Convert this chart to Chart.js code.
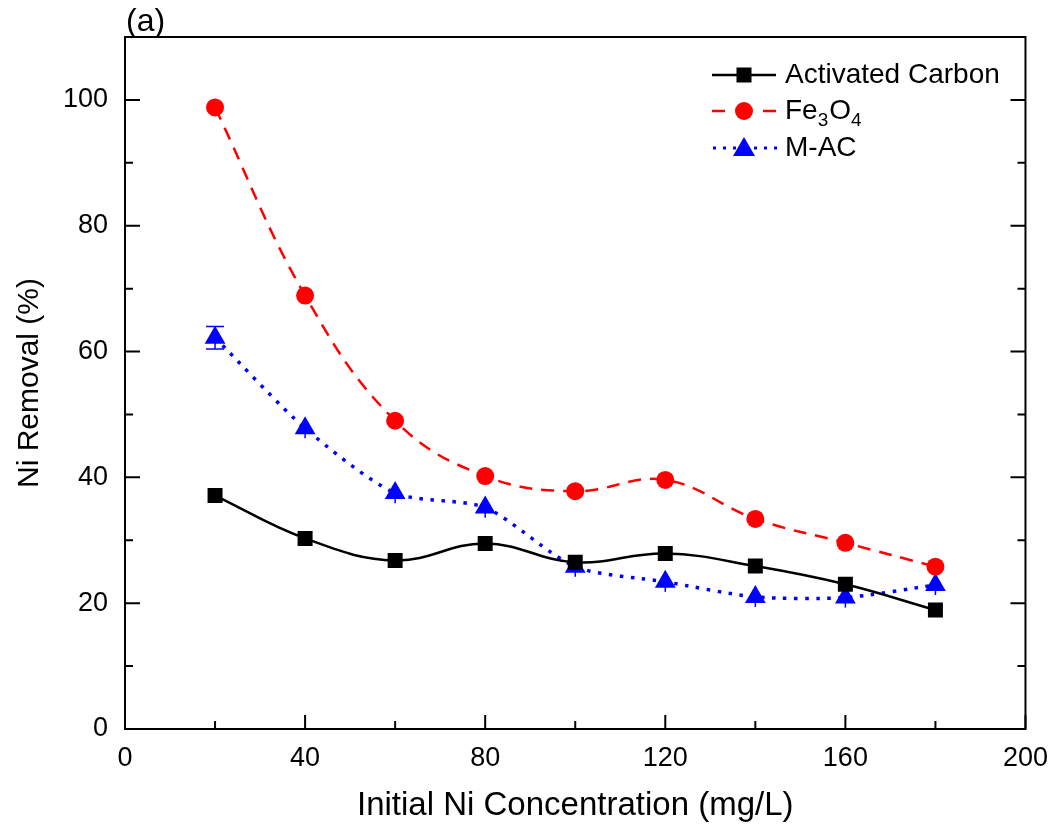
<!DOCTYPE html>
<html>
<head>
<meta charset="utf-8">
<script src="https://cdn.jsdelivr.net/npm/chart.js@4.4.1/dist/chart.umd.min.js"></script>
<style>
  html, body { margin: 0; padding: 0; background: #fff; }
  #wrap { width: 1061px; height: 832px; }
</style>
</head>
<body>
<div id="wrap"><canvas id="removal-chart" width="1061" height="832"></canvas></div>
<script>
// Ni removal vs initial concentration
var concentrations = [20, 40, 60, 80, 100, 120, 140, 160, 180];
var carbonRemoval = [37.1, 30.3, 26.8, 29.5, 26.5, 27.9, 25.9, 23.0, 18.9];
var fe3o4Removal = [98.8, 68.9, 49.0, 40.2, 37.8, 39.6, 33.4, 29.6, 25.8];
var macRemoval = [62.2, 47.8, 37.5, 35.2, 25.8, 23.4, 21.0, 20.9, 22.9];
var fe3o4Error = [0.8, 0.5, 0.5, 0.5, 0.5, 0.5, 0.5, 0.5, 0.5];
var macError = [1.8, 1.6, 1.6, 1.6, 1.6, 1.6, 1.6, 1.6, 1.6];
var xTicks = [0, 40, 80, 120, 160, 200];
var yTicks = [0, 20, 40, 60, 80, 100];
var xMinorTicks = [20, 60, 100, 140, 180];
var yMinorTicks = [10, 30, 50, 70, 90];

var FONT = "'Liberation Sans', Arial, sans-serif";

function pairs(ys) {
    return concentrations.map(function (x, i) { return { x: x, y: ys[i] }; });
}

// error bars, ticks inside the frame, the frame itself, legend and panel label
var decorations = {
    id: 'decorations',
    beforeDatasetsDraw: function (chart) {
        var ctx = chart.ctx, xs = chart.scales.x, ys = chart.scales.y;
        var sets = [[fe3o4Removal, fe3o4Error, '#ff0000'], [macRemoval, macError, '#0000ff']];
        ctx.save();
        sets.forEach(function (s) {
            ctx.strokeStyle = s[2];
            ctx.lineWidth = 1.5;
            concentrations.forEach(function (c, i) {
                var px = xs.getPixelForValue(c);
                var top = ys.getPixelForValue(s[0][i] + s[1][i]);
                var bot = ys.getPixelForValue(s[0][i] - s[1][i]);
                ctx.beginPath();
                ctx.moveTo(px, top); ctx.lineTo(px, bot);
                if (s[1][i] >= 1.8) {
                    ctx.moveTo(px - 9, top); ctx.lineTo(px + 9, top);
                    ctx.moveTo(px - 9, bot); ctx.lineTo(px + 9, bot);
                }
                ctx.stroke();
            });
        });
        ctx.restore();
    },
    afterDraw: function (chart) {
        var ctx = chart.ctx, a = chart.chartArea;
        var xs = chart.scales.x, ys = chart.scales.y;
        ctx.save();
        ctx.strokeStyle = '#000';
        ctx.lineWidth = 2;
        ctx.strokeRect(a.left, a.top, a.right - a.left, a.bottom - a.top);

        ctx.beginPath();
        xTicks.forEach(function (v) {
            var px = xs.getPixelForValue(v);
            ctx.moveTo(px, a.bottom); ctx.lineTo(px, a.bottom - 14);
        });
        xMinorTicks.forEach(function (v) {
            var px = xs.getPixelForValue(v);
            ctx.moveTo(px, a.bottom); ctx.lineTo(px, a.bottom - 8);
        });
        yTicks.forEach(function (v) {
            var py = ys.getPixelForValue(v);
            ctx.moveTo(a.left, py); ctx.lineTo(a.left + 15, py);
            ctx.moveTo(a.right, py); ctx.lineTo(a.right - 15, py);
        });
        yMinorTicks.forEach(function (v) {
            var py = ys.getPixelForValue(v);
            ctx.moveTo(a.left, py); ctx.lineTo(a.left + 8, py);
            ctx.moveTo(a.right, py); ctx.lineTo(a.right - 8, py);
        });
        ctx.stroke();

        // panel label
        ctx.fillStyle = '#000';
        ctx.font = '32px ' + FONT;
        ctx.textBaseline = 'alphabetic';
        ctx.textAlign = 'left';
        ctx.fillText('(a)', 126, 31);

        // legend
        var lx0 = 712, lx1 = 776, mx = 744, tx = 785;
        var rows = [75, 111, 148];
        ctx.lineWidth = 2.5;
        ctx.strokeStyle = '#000';
        ctx.beginPath(); ctx.moveTo(lx0, rows[0]); ctx.lineTo(lx1, rows[0]); ctx.stroke();
        ctx.fillStyle = '#000';
        ctx.fillRect(mx - 7.5, rows[0] - 7.5, 15, 15);

        ctx.strokeStyle = '#ff0000';
        ctx.lineWidth = 2.5;
        ctx.beginPath();
        ctx.moveTo(lx0, rows[1]); ctx.lineTo(lx0 + 13, rows[1]);
        ctx.moveTo(lx1 - 13, rows[1]); ctx.lineTo(lx1, rows[1]);
        ctx.stroke();
        ctx.fillStyle = '#ff0000';
        ctx.beginPath(); ctx.arc(mx, rows[1], 9, 0, Math.PI * 2); ctx.fill();

        ctx.fillStyle = '#0000ff';
        [lx0 + 1, lx0 + 11, lx0 + 21, lx1 - 22, lx1 - 12, lx1 - 2].forEach(function (dx) {
            ctx.fillRect(dx, rows[2] - 1.5, 3, 3);
        });
        ctx.beginPath();
        ctx.moveTo(mx, rows[2] - 11);
        ctx.lineTo(mx + 11, rows[2] + 8);
        ctx.lineTo(mx - 11, rows[2] + 8);
        ctx.closePath(); ctx.fill();

        ctx.fillStyle = '#000';
        ctx.textBaseline = 'middle';
        ctx.font = '28px ' + FONT;
        ctx.fillText('Activated Carbon', tx, rows[0]);
        ctx.fillText('M-AC', tx, rows[2]);
        // Fe3O4 with subscripts
        var x = tx;
        var parts = [['Fe', false], ['3', true], ['O', false], ['4', true]];
        parts.forEach(function (p) {
            ctx.font = (p[1] ? '19px ' : '28px ') + FONT;
            ctx.fillText(p[0], x, rows[1] + (p[1] ? 10 : 0));
            x += ctx.measureText(p[0]).width + (p[1] ? 1 : 0);
        });
        ctx.restore();
    }
};

new Chart(document.getElementById('removal-chart'), {
    type: 'line',
    data: {
        datasets: [
            {
                label: 'Activated Carbon',
                data: pairs(carbonRemoval),
                borderColor: '#000000',
                backgroundColor: '#000000',
                borderWidth: 2.5,
                tension: 0.4,
                pointStyle: 'rect',
                pointRadius: 10.6,
                pointHoverRadius: 10.6,
                pointBorderWidth: 0
            }, {
                label: 'Fe3O4',
                data: pairs(fe3o4Removal),
                borderColor: '#ff0000',
                backgroundColor: '#ff0000',
                borderWidth: 2.5,
                borderDash: [13, 9],
                tension: 0.4,
                pointStyle: 'circle',
                pointRadius: 9,
                pointHoverRadius: 9,
                pointBorderWidth: 0
            }, {
                label: 'M-AC',
                data: pairs(macRemoval),
                borderColor: '#0000ff',
                backgroundColor: '#0000ff',
                borderWidth: 3.5,
                borderDash: [3.5, 7.5],
                tension: 0.25,
                pointStyle: 'triangle',
                pointRadius: 12,
                pointHoverRadius: 12,
                pointBorderWidth: 0
            }
        ]
    },
    options: {
        responsive: false,
        animation: false,
        events: [],
        layout: { padding: { left: 0, right: 30, top: 37, bottom: 0 } },
        plugins: {
            legend: { display: false },
            tooltip: { enabled: false }
        },
        scales: {
            x: {
                type: 'linear',
                min: 0,
                max: 200,
                grid: { display: false, drawTicks: false },
                border: { display: false },
                afterBuildTicks: function (scale) {
                    scale.ticks = xTicks.map(function (v) { return { value: v }; });
                },
                afterFit: function (scale) { scale.height = 103; },
                ticks: {
                    color: '#000',
                    padding: 13,
                    maxRotation: 0,
                    font: { family: FONT, size: 27 }
                },
                title: {
                    display: true,
                    text: 'Initial Ni Concentration (mg/L)',
                    color: '#000',
                    font: { family: FONT, size: 33 },
                    padding: { top: 0, bottom: 6 }
                }
            },
            y: {
                type: 'linear',
                min: 0,
                max: 110,
                grid: { display: false, drawTicks: false },
                border: { display: false },
                afterBuildTicks: function (scale) {
                    scale.ticks = yTicks.map(function (v) { return { value: v }; });
                },
                afterFit: function (scale) { scale.width = 125; },
                ticks: {
                    color: '#000',
                    padding: 17,
                    font: { family: FONT, size: 27 }
                },
                title: {
                    display: true,
                    text: 'Ni Removal (%)',
                    color: '#000',
                    font: { family: FONT, size: 30 },
                    padding: { top: 12, bottom: 0 }
                }
            }
        }
    },
    plugins: [decorations]
});
</script>
</body>
</html>
